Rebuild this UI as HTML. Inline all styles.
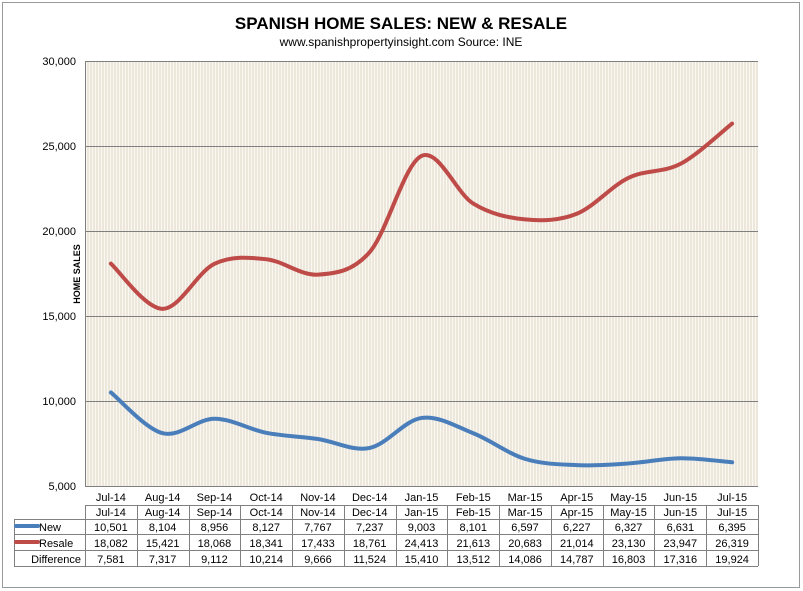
<!DOCTYPE html>
<html><head><meta charset="utf-8"><style>
body{margin:0;background:#fff;}
svg{display:block;font-family:"Liberation Sans",sans-serif;}
</style></head><body>
<svg width="803" height="591" viewBox="0 0 803 591" xmlns="http://www.w3.org/2000/svg">
<defs>
<pattern id="st" width="3" height="10" patternUnits="userSpaceOnUse">
<rect width="3" height="10" fill="#ece7da"/><rect x="2" width="1" height="10" fill="#faf8f3"/>
</pattern>
</defs>
<rect x="2.5" y="2.5" width="797" height="585" fill="#fff" stroke="#999"/>
<text x="401" y="29" text-anchor="middle" font-size="17" font-weight="bold">SPANISH HOME SALES: NEW &amp; RESALE</text>
<text x="401" y="46" text-anchor="middle" font-size="12">www.spanishpropertyinsight.com Source: INE</text>
<rect x="85" y="61" width="673" height="425" fill="url(#st)"/>
<g stroke="#808080" stroke-width="1">
<line x1="85" y1="61.5" x2="758" y2="61.5"/><line x1="85" y1="146.5" x2="758" y2="146.5"/>
<line x1="85" y1="231.5" x2="758" y2="231.5"/><line x1="85" y1="316.5" x2="758" y2="316.5"/>
<line x1="85" y1="401.5" x2="758" y2="401.5"/><line x1="85" y1="486.5" x2="758" y2="486.5"/>
<line x1="85.5" y1="61" x2="85.5" y2="486"/>
</g>
<g font-size="11" text-anchor="end">
<text x="76" y="65">30,000</text><text x="76" y="150">25,000</text><text x="76" y="235">20,000</text>
<text x="76" y="320">15,000</text><text x="76" y="405">10,000</text><text x="76" y="490">5,000</text>
</g>
<text transform="translate(80,274) rotate(-90)" text-anchor="middle" font-size="9" font-weight="bold">HOME SALES</text>
<path id="pn" fill="none" stroke="#4a7ebb" stroke-width="4" stroke-linecap="round"/>
<path id="pr" fill="none" stroke="#be4b48" stroke-width="4" stroke-linecap="round"/>
<g id="tbl" font-size="11" text-anchor="middle"></g>
</svg>
<script>
var months=["Jul-14","Aug-14","Sep-14","Oct-14","Nov-14","Dec-14","Jan-15","Feb-15","Mar-15","Apr-15","May-15","Jun-15","Jul-15"];
var nw=[10501,8104,8956,8127,7767,7237,9003,8101,6597,6227,6327,6631,6395];
var rs=[18082,15421,18068,18341,17433,18761,24413,21613,20683,21014,23130,23947,26319];
var cw=673/13;
function X(i){return 85+cw*(i+0.5);}
function Y(v){return 486-(v-5000)*0.017;}
function path(d){var p=d.map(function(v,i){return [X(i),Y(v)];});var s="M"+p[0][0]+","+p[0][1];
for(var i=0;i<p.length-1;i++){var p0=p[i-1]||p[i],p1=p[i],p2=p[i+1],p3=p[i+2]||p2;var t=6;
s+=" C"+(p1[0]+(p2[0]-p0[0])/t)+","+(p1[1]+(p2[1]-p0[1])/t)+" "+(p2[0]-(p3[0]-p1[0])/t)+","+(p2[1]-(p3[1]-p1[1])/t)+" "+p2[0]+","+p2[1];}return s;}
document.getElementById("pn").setAttribute("d",path(nw));
document.getElementById("pr").setAttribute("d",path(rs));
function f(n){return n.toLocaleString("en-US");}
var g=document.getElementById("tbl"),h="";
var rows=[505,519,534,550,566];
for(var i=0;i<13;i++){var x=X(i);
h+='<text x="'+x+'" y="501">'+months[i]+'</text>';
h+='<text x="'+x+'" y="516">'+months[i]+'</text>';
h+='<text x="'+x+'" y="531">'+f(nw[i])+'</text>';
h+='<text x="'+x+'" y="547">'+f(rs[i])+'</text>';
h+='<text x="'+x+'" y="563">'+f(rs[i]-nw[i])+'</text>';}
h+='<g stroke="#808080" fill="none">';
h+='<line x1="85" y1="505.5" x2="758" y2="505.5"/>';
[519,534,550,566].forEach(function(y){h+='<line x1="14" y1="'+(y+.5)+'" x2="758" y2="'+(y+.5)+'"/>';});
h+='<line x1="14.5" y1="519" x2="14.5" y2="566"/>';
for(var i=0;i<=13;i++){var x=Math.round(85+cw*i)+.5;h+='<line x1="'+x+'" y1="505" x2="'+x+'" y2="566"/>';}
h+='</g>';
h+='<line x1="16" y1="526" x2="38" y2="526" stroke="#4a7ebb" stroke-width="4" stroke-linecap="round"/>';
h+='<line x1="16" y1="542" x2="38" y2="542" stroke="#be4b48" stroke-width="4" stroke-linecap="round"/>';
h+='<text x="39" y="531" text-anchor="start">New</text><text x="39" y="547" text-anchor="start">Resale</text>';
h+='<text x="81" y="563" text-anchor="end">Difference</text>';
g.innerHTML=h;
</script>
</body></html>
